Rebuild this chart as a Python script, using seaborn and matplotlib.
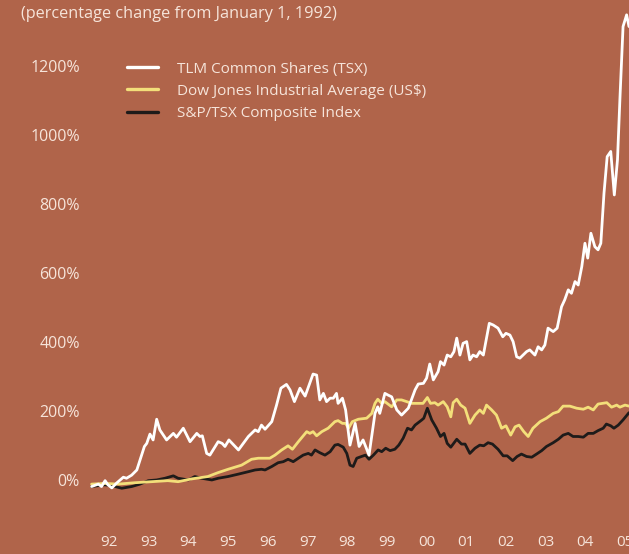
import matplotlib
matplotlib.use("Agg")
import matplotlib.pyplot as plt
import seaborn as sns
import pandas as pd
from matplotlib.lines import Line2D

# ---- data (years since Jan 1 1992, % change) ----
tlm_x = [0.04, 0.21, 0.29, 0.38, 0.45, 0.55, 0.67, 0.84, 0.92, 1.05, 1.18, 1.26, 1.37, 1.43, 1.51, 1.59,
         1.68, 1.76, 1.93, 2.10, 2.18, 2.35, 2.52, 2.69, 2.77, 2.83, 2.94, 3.02, 3.23, 3.33, 3.40, 3.50,
         3.74, 3.99, 4.16, 4.24, 4.32, 4.41, 4.58, 4.70, 4.81, 4.95, 5.04, 5.15, 5.29, 5.42, 5.52, 5.62,
         5.71, 5.79, 5.88, 5.96, 6.05, 6.13, 6.21, 6.25, 6.36, 6.44, 6.55, 6.68, 6.78, 6.88, 7.03, 7.18,
         7.25, 7.30, 7.43, 7.51, 7.60, 7.73, 7.85, 8.02, 8.19, 8.27, 8.40, 8.48, 8.56, 8.65, 8.77, 8.83,
         8.92, 9.00, 9.09, 9.17, 9.24, 9.32, 9.40, 9.49, 9.57, 9.65, 9.74, 9.82, 9.91, 10.06, 10.16, 10.28,
         10.40, 10.48, 10.58, 10.66, 10.75, 10.83, 11.00, 11.08, 11.21, 11.29, 11.38, 11.46, 11.54, 11.67,
         11.77, 11.88, 11.96, 12.05, 12.13, 12.22, 12.30, 12.39, 12.47, 12.54, 12.62, 12.72, 12.80, 12.87,
         12.95, 13.03, 13.12, 13.21, 13.29, 13.35, 13.43, 13.52, 13.58]
tlm_y = [-19, -12, -19, -2, -14, -23, -9, 8, 5, 14, 29, 58, 97, 106, 133, 116,
         176, 145, 116, 135, 124, 150, 111, 135, 126, 128, 77, 72, 111, 106, 97, 116,
         87, 126, 145, 140, 159, 147, 169, 217, 266, 277, 261, 227, 266, 243, 275, 307,
         304, 232, 251, 227, 237, 237, 251, 222, 237, 203, 101, 164, 97, 116, 72, 193,
         212, 193, 251, 246, 241, 203, 188, 208, 261, 278, 280, 295, 336, 290, 314, 343,
         333, 362, 357, 372, 411, 362, 396, 401, 348, 362, 357, 372, 362, 454, 449, 440,
         415, 425, 420, 401, 357, 353, 372, 377, 362, 386, 377, 391, 440, 430,
         440, 502, 522, 551, 541, 575, 565, 618, 686, 643, 715, 676, 667, 686,
         831, 937, 952, 826, 928, 1101, 1314, 1348, 1314]

dow_x = [0.04, 0.38, 0.71, 1.13, 1.55, 1.96, 2.22, 2.56, 2.97, 3.22, 3.48, 3.82, 4.07, 4.24, 4.41,
         4.53, 4.66, 4.83, 4.99, 5.10, 5.25, 5.46, 5.54, 5.62, 5.71, 5.84, 6.00, 6.17, 6.25, 6.36,
         6.44, 6.51, 6.61, 6.76, 6.97, 7.10, 7.18, 7.25, 7.35, 7.43, 7.60, 7.73, 7.85, 7.98, 8.10,
         8.27, 8.39, 8.50, 8.58, 8.69, 8.77, 8.90, 9.00, 9.09, 9.15, 9.24, 9.34, 9.45, 9.57, 9.70,
         9.82, 9.91, 9.99, 10.12, 10.24, 10.37, 10.48, 10.60, 10.71, 10.81, 10.93, 11.04, 11.16, 11.34,
         11.50, 11.67, 11.80, 11.92, 12.09, 12.26, 12.43, 12.55, 12.68, 12.80, 13.02, 13.14, 13.27,
         13.35, 13.48, 13.58]
dow_y = [-12, -10, -12, -8, -5, -2, -5, 3, 10, 21, 31, 43, 60, 63, 63,
         63, 72, 87, 99, 89, 111, 140, 135, 140, 128, 140, 150, 169, 172, 164,
         164, 150, 169, 176, 179, 193, 222, 234, 222, 227, 212, 232, 232, 227, 222,
         222, 222, 239, 222, 224, 217, 227, 212, 183, 224, 234, 217, 208, 164, 188,
         203, 193, 217, 203, 188, 150, 157, 130, 154, 159, 140, 126, 150, 169,
         179, 193, 198, 214, 214, 208, 205, 211, 203, 220, 224, 211, 217,
         211, 217, 214]

tsx_x = [0.04, 0.38, 0.63, 0.80, 1.05, 1.26, 1.47, 1.68, 1.89, 2.10, 2.22, 2.48, 2.64, 2.81, 3.07,
         3.23, 3.48, 3.74, 3.99, 4.16, 4.32, 4.41, 4.58, 4.74, 4.87, 4.99, 5.12, 5.25, 5.37, 5.50,
         5.58, 5.67, 5.79, 5.92, 6.05, 6.17, 6.25, 6.38, 6.47, 6.55, 6.63, 6.72, 6.84, 6.94, 7.03,
         7.14, 7.26, 7.35, 7.45, 7.56, 7.68, 7.78, 7.89, 8.00, 8.10, 8.19, 8.36, 8.41, 8.50, 8.61,
         8.73, 8.83, 8.92, 9.00, 9.09, 9.24, 9.36, 9.45, 9.57, 9.70, 9.82, 9.92, 10.03, 10.14, 10.28,
         10.41, 10.51, 10.65, 10.76, 10.87, 11.00, 11.13, 11.25, 11.38, 11.50, 11.67, 11.80, 11.92,
         12.05, 12.17, 12.30, 12.43, 12.55, 12.68, 12.80, 12.93, 13.01, 13.12, 13.20, 13.31, 13.43, 13.58]
tsx_y = [-19, -14, -19, -24, -19, -12, -2, 0, 5, 12, 5, 0, 10, 5, 0,
         5, 10, 17, 24, 29, 31, 29, 39, 50, 53, 60, 53, 63, 72, 77,
         72, 87, 79, 72, 82, 101, 103, 95, 77, 43, 39, 63, 68, 72, 60,
         72, 87, 82, 92, 85, 89, 101, 121, 150, 145, 159, 174, 179, 208, 174,
         150, 126, 135, 106, 95, 118, 104, 104, 77, 92, 101, 99, 108, 104, 89,
         70, 70, 56, 68, 75, 68, 66, 75, 85, 97, 108, 118, 130,
         135, 126, 126, 124, 135, 135, 143, 150, 162, 157, 150, 159, 174, 195]

series_names = ["TLM Common Shares (TSX)", "Dow Jones Industrial Average (US$)", "S&P/TSX Composite Index"]
year_labels = ["92", "93", "94", "95", "96", "97", "98", "99", "00", "01", "02", "03", "04", "05"]
y_ticks = [0, 200, 400, 600, 800, 1000, 1200]
title_text = "(percentage change from January 1, 1992)"

# ---- styling ----
BG = "#B0644A"
TXT = "#F6E4DA"
colors = {series_names[0]: "#FFFFFF", series_names[1]: "#F3DF7A", series_names[2]: "#1E1B1A"}

sns.set_theme(style="white")
plt.rcParams["font.family"] = ["Open Sans", "DejaVu Sans"]

W, H = 629, 554
fig = plt.figure(figsize=(W / 100, H / 100), dpi=100, facecolor=BG)
ax = fig.add_axes([85 / W, 1 - 530 / H, (629 - 85) / W, 530 / H])
ax.set_facecolor(BG)

frames = []
for name, xs, ys in [(series_names[2], tsx_x, tsx_y), (series_names[1], dow_x, dow_y), (series_names[0], tlm_x, tlm_y)]:
    frames.append(pd.DataFrame({"year": xs, "pct": ys, "series": name}))
df = pd.concat(frames, ignore_index=True)

for name in [series_names[2], series_names[1], series_names[0]]:
    sub = df[df["series"] == name]
    sns.lineplot(data=sub, x="year", y="pct", ax=ax, color=colors[name], lw=2.0,
                 estimator=None, sort=False, legend=False)

ax.set_xlim(-0.126, 13.58)
ax.set_ylim(-145, 1391)
ax.set_xticks([i + 0.48 for i in range(len(year_labels))])
ax.set_xticklabels(year_labels)
ax.set_yticks(y_ticks)
ax.set_yticklabels([f"{v}%" for v in y_ticks])
ax.tick_params(axis="both", length=0, colors=TXT, labelsize=11.5)
ax.tick_params(axis="x", labelsize=11)
ax.tick_params(axis="y", pad=3.6)
ax.tick_params(axis="x", pad=3.5)
ax.set_xlabel("")
ax.set_ylabel("")
for s in ax.spines.values():
    s.set_visible(False)

leg_handles = [Line2D([], [], color=colors[n], lw=2.4) for n in series_names]
leg = fig.legend(leg_handles, series_names, loc="upper left",
                 bbox_to_anchor=(127 / W, 1 - 61.5 / H), frameon=False,
                 fontsize=11, handlelength=2.0, handletextpad=1.25, labelspacing=0.47,
                 borderaxespad=0, borderpad=0)
for t in leg.get_texts():
    t.set_color(TXT)

fig.text(21 / W, 1 - 14.5 / H, title_text, color=TXT, fontsize=11.7, va="center", ha="left")

fig.savefig("out.png", dpi=100, facecolor=BG)
